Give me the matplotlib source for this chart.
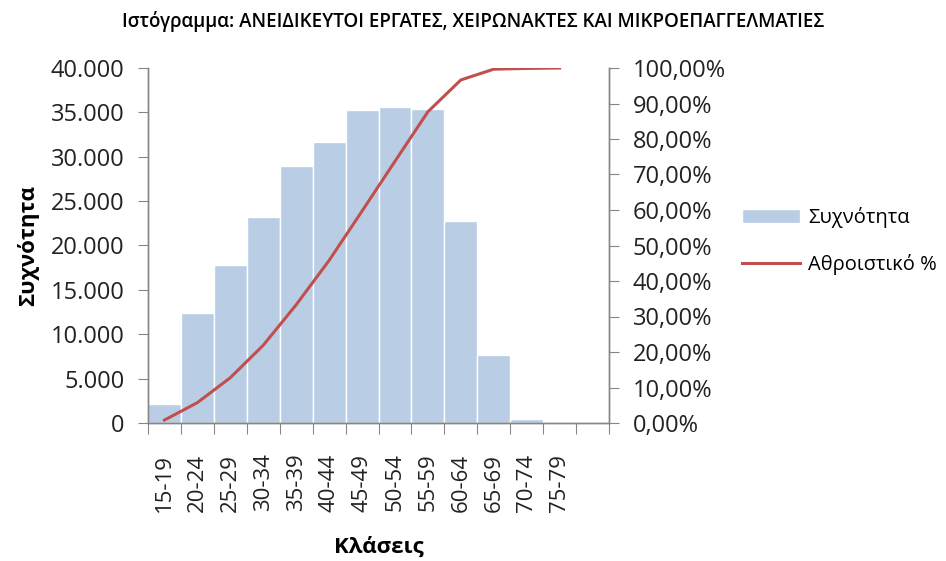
import numpy as np
import matplotlib.pyplot as plt
from matplotlib.ticker import FuncFormatter, FixedLocator

plt.rcParams['font.family'] = ['Open Sans', 'DejaVu Sans']

# ==================== data ====================
classes = ['15-19', '20-24', '25-29', '30-34', '35-39', '40-44', '45-49',
           '50-54', '55-59', '60-64', '65-69', '70-74', '75-79', '']
freq = [2100, 12450, 17800, 23200, 28950, 31700, 35250,
        35600, 35400, 22750, 7700, 450, 20, 0]
cum_pct = [0.83, 5.74, 12.76, 21.90, 33.31, 45.80, 59.69,
           73.72, 87.67, 96.63, 99.67, 99.88, 100.00]

bar_color = '#B9CDE5'
line_color = '#C0504D'
axis_gray = '#868686'

fig = plt.figure(figsize=(9.46, 5.61), dpi=100)
ax = fig.add_axes([148 / 946, 1 - 423 / 561, (609 - 148) / 946, 355 / 561])
ax2 = ax.twinx()

x = np.arange(len(classes))
ax.bar(x, freq, width=1.0, color=bar_color, edgecolor='white', linewidth=1.0,
       zorder=2, label='Συχνότητα')
ax2.plot(x[:len(cum_pct)], cum_pct, color=line_color, linewidth=2.2,
         label='Αθροιστικό %')

ax.set_xlim(-0.5, len(classes) - 0.5)
ax.set_ylim(0, 40000)
ax.set_yticks(np.arange(0, 40001, 5000))
ax.yaxis.set_major_formatter(FuncFormatter(lambda v, p: f'{int(v):,}'.replace(',', '.')))
ax2.set_ylim(0, 100)
ax2.set_yticks(np.arange(0, 101, 10))
ax2.yaxis.set_major_formatter(FuncFormatter(lambda v, p: f'{v:.2f}'.replace('.', ',') + '%'))

# x ticks: marks at bin edges, labels at centers
ax.xaxis.set_major_locator(FixedLocator(np.arange(-0.5, len(classes), 1.0)))
ax.xaxis.set_major_formatter(FuncFormatter(lambda v, p: ''))
ax.set_xticks(x, minor=True)
ax.set_xticklabels(classes, minor=True, rotation=90, fontsize=16, color='#222222')
ax.tick_params(axis='x', which='minor', length=0, pad=22)
ax.tick_params(axis='x', which='major', length=8, color=axis_gray, direction='out')

ax.tick_params(axis='y', labelsize=17, length=7, color=axis_gray, labelcolor='#222222', pad=10)
ax2.tick_params(axis='y', labelsize=17, length=7, color=axis_gray, labelcolor='#222222', pad=10)

for a in (ax, ax2):
    a.spines['top'].set_visible(False)
    for s in ('left', 'right', 'bottom'):
        a.spines[s].set_color(axis_gray)
        a.spines[s].set_linewidth(1.0)

ax.set_ylabel('Συχνότητα', fontsize=16, fontweight='bold', labelpad=8)
ax.set_xlabel('Κλάσεις', fontsize=16, fontweight='bold', labelpad=18)
fig.suptitle('Ιστόγραμμα: ΑΝΕΙΔΙΚΕΥΤΟΙ ΕΡΓΑΤΕΣ, ΧΕΙΡΩΝΑΚΤΕΣ ΚΑΙ ΜΙΚΡΟΕΠΑΓΓΕΛΜΑΤΙΕΣ',
             fontsize=13.5, fontweight='semibold', y=0.98)

h1, l1 = ax.get_legend_handles_labels()
h2, l2 = ax2.get_legend_handles_labels()
fig.legend(h1 + h2, l1 + l2, loc='center left', bbox_to_anchor=(0.765, 0.57),
           frameon=False, fontsize=14.5, handlelength=2.9, labelspacing=1.3,
           handletextpad=0.4)

fig.savefig('out.png', dpi=100)
